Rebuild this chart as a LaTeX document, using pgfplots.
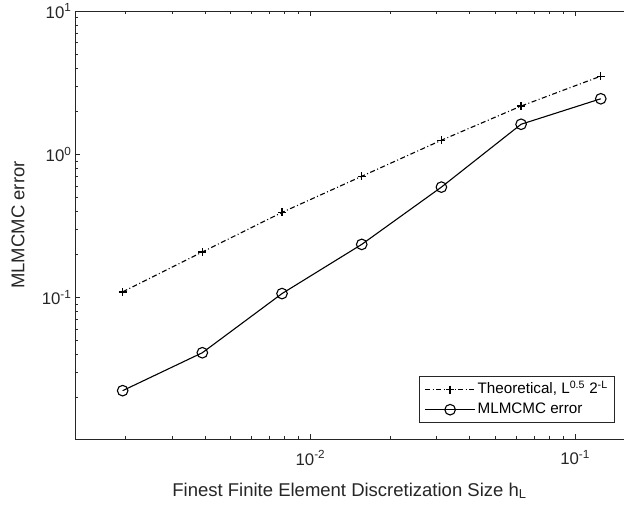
\documentclass[border=0pt]{standalone}
\usepackage{fontspec}
\setmainfont{Liberation Sans}
\usepackage{pgfplots}
\pgfplotsset{compat=1.18}
\usetikzlibrary{calc}

\definecolor{axgray}{rgb}{0.15,0.15,0.15}

\begin{document}
\begin{tikzpicture}
	\begin{axis}[
			name=ax,
			xmode=log, ymode=log,
			scale only axis,
			width=549pt, height=428pt,
			xmin=0.00129, xmax=0.153,
			ymin=0.0103, ymax=10,
			axis x line=box, axis y line=left,
			axis line style={-, draw=axgray, line width=0.7pt},
			tick align=inside,
			tick style={axgray, line width=0.6pt},
			major tick length=5pt, minor tick length=3pt,
			xtick={0.01,0.1},
			xticklabels={10\textsuperscript{-2}, 10\textsuperscript{-1}},
			minor xtick={0.002,0.003,0.004,0.005,0.006,0.007,0.008,0.009,
				0.02,0.03,0.04,0.05,0.06,0.07,0.08,0.09},
			ytick={0.1,1,10},
			yticklabels={10\textsuperscript{-1}, 10\textsuperscript{0}, 10\textsuperscript{1}},
			minor ytick={0.02,0.03,0.04,0.05,0.06,0.07,0.08,0.09,
				0.2,0.3,0.4,0.5,0.6,0.7,0.8,0.9,2,3,4,5,6,7,8,9},
			tick label style={font=\fontsize{16.8}{19}\selectfont, text=axgray},
			xticklabel style={yshift=-8pt},
			label style={font=\fontsize{18.5}{21}\selectfont, text=axgray},
			xlabel={Finest Finite Element Discretization Size h\textsubscript{L}},
			ylabel={MLMCMC error},
			xlabel style={at={(rel axis cs:0.5,0)}, anchor=base, yshift=-57pt},
			ylabel style={at={(rel axis cs:0,0.5)}, anchor=center, yshift=57pt},
			legend style={
				at={(0.9836,0.0374)}, anchor=south east,
				font=\fontsize{15.2}{17}\selectfont,
				draw=axgray, line width=0.6pt,
				inner xsep=5pt, inner ysep=3pt,
				nodes={text height=11pt, text depth=3pt, inner ysep=3pt, inner xsep=2pt},
				row sep=0pt,
				cells={anchor=west},
			},
			legend image code/.code={
				\draw[mark repeat=2, mark phase=2, #1]
				plot coordinates {(0pt,0pt) (25pt,0pt) (50pt,0pt)};
			},
		]

		\addplot [black, line width=1.1pt,
			dash pattern=on 5pt off 2.5pt on 1pt off 2.5pt,
			mark=+, mark size=4pt, mark options={solid, line width=1.3pt}] coordinates {
			(0.001953125, 0.1096)
			(0.00390625,  0.208)
			(0.0078125,   0.393)
			(0.015625,    0.702)
			(0.03125,     1.253)
			(0.0625,      2.17)
			(0.125,       3.51)
		};
		\addlegendentry{Theoretical, L\textsuperscript{0.5} 2\textsuperscript{-L}}

		\addplot [black, line width=1.1pt,
			mark=o, mark size=5.3pt] coordinates {
			(0.001953125, 0.0224)
			(0.00390625,  0.0412)
			(0.0078125,   0.1066)
			(0.015625,    0.235)
			(0.03125,     0.590)
			(0.0625,      1.62)
			(0.125,       2.44)
		};
		\addlegendentry{MLMCMC error}

	\end{axis}
	\pgfresetboundingbox
	\path[use as bounding box] ($(ax.south west)+(-75pt,-69pt)$) rectangle ($(ax.north east)+(0pt,11pt)$);
\end{tikzpicture}
\end{document}
